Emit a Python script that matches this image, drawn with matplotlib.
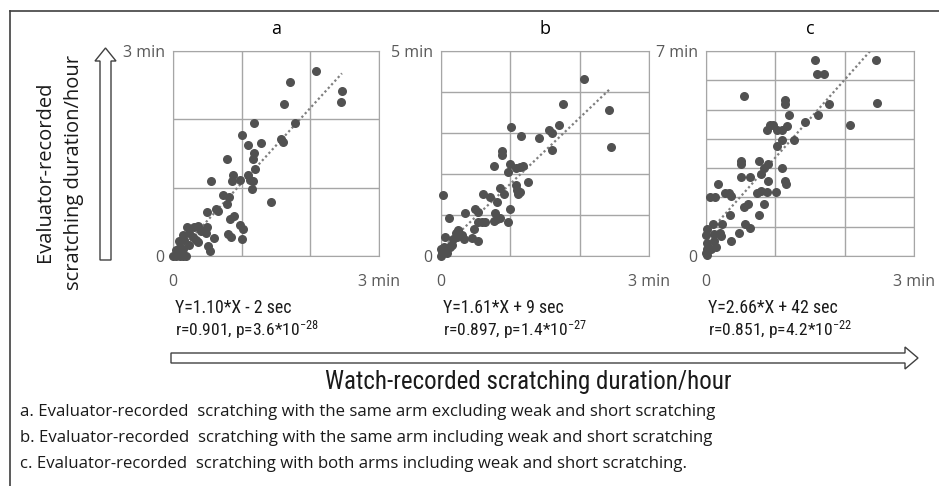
import matplotlib.pyplot as plt
import numpy as np
from matplotlib.patches import Polygon
from matplotlib.lines import Line2D

# Watch-recorded (x) vs evaluator-recorded (y) scratching, minutes per hour
xa = [2.08, 1.71, 2.46, 2.45, 1.61, 1.18, 1.77, 1.01, 1.09, 1.28, 1.58, 1.60, 1.18, 1.17,
      0.78, 1.19, 0.56, 0.88, 0.86, 0.97, 1.09, 1.12, 1.16, 1.15, 0.73, 0.82, 0.78, 1.42,
      0.63, 0.65, 0.49, 0.89, 0.83, 0.97, 1.02, 1.00, 0.80, 0.85, 0.59, 0.50, 0.48, 0.51,
      0.54, 0.36, 0.31, 0.21, 0.15, 0.23, 0.34, 0.36, 0.24, 0.16, 0.09, 0.10, 0.05, 0.14,
      0.00, 0.05, 0.10, 0.15, 0.19, 0.29, 0.41]
ya = [2.71, 2.54, 2.41, 2.25, 2.23, 1.95, 1.95, 1.77, 1.63, 1.65, 1.71, 1.67, 1.51, 1.42,
      1.42, 1.27, 1.10, 1.18, 1.10, 1.11, 1.19, 1.11, 1.10, 0.98, 0.90, 0.87, 0.76, 0.79,
      0.69, 0.66, 0.64, 0.59, 0.54, 0.45, 0.39, 0.25, 0.32, 0.28, 0.27, 0.43, 0.34, 0.14,
      0.08, 0.44, 0.43, 0.43, 0.31, 0.33, 0.24, 0.20, 0.16, 0.23, 0.22, 0.13, 0.09, 0.10,
      0.00, 0.00, 0.00, 0.00, 0.00, 0.28, 0.37]

xb = [2.06, 1.76, 2.43, 2.45, 1.01, 1.16, 1.41, 1.56, 1.60, 1.70, 1.60, 0.88, 0.88, 0.76,
      0.99, 0.97, 1.08, 1.14, 1.18, 1.26, 1.08, 1.09, 1.14, 1.11, 0.85, 0.91, 0.61, 0.71,
      0.81, 0.03, 0.99, 0.34, 0.49, 0.53, 0.78, 0.81, 0.85, 0.77, 0.96, 0.54, 0.59, 0.64,
      0.47, 0.12, 0.24, 0.21, 0.30, 0.33, 0.18, 0.45, 0.53, 0.06, 0.16, 0.11, 0.04, 0.00,
      0.01, 0.00, 0.09, 0.13, 0.23]
yb = [4.32, 3.70, 3.57, 2.66, 3.14, 2.93, 2.89, 3.08, 3.00, 3.19, 2.58, 2.55, 2.47, 2.19,
      2.25, 2.04, 2.15, 2.17, 2.20, 1.80, 1.72, 1.62, 1.56, 1.50, 1.65, 1.50, 1.52, 1.43,
      1.31, 1.49, 1.15, 1.04, 1.15, 1.07, 1.04, 0.91, 0.93, 0.85, 0.83, 0.83, 0.83, 0.83,
      0.67, 0.93, 0.63, 0.57, 0.51, 0.41, 0.41, 0.45, 0.37, 0.46, 0.28, 0.23, 0.23, 0.16,
      0.08, 0.00, 0.08, 0.23, 0.47]

xc = [1.57, 1.60, 1.70, 2.45, 2.46, 0.55, 1.14, 1.14, 1.78, 1.20, 1.61, 1.43, 2.07, 0.92,
      0.97, 0.88, 1.02, 1.09, 1.17, 1.10, 1.27, 1.02, 0.50, 0.50, 0.77, 0.89, 0.84, 0.80,
      1.10, 0.51, 0.63, 0.89, 1.14, 1.16, 0.18, 0.06, 0.13, 0.27, 0.33, 0.36, 0.73, 0.79,
      0.88, 1.01, 0.60, 0.55, 0.84, 0.34, 0.77, 0.56, 0.64, 0.23, 0.10, 0.48, 0.36, 0.20,
      0.22, 0.12, 0.01, 0.00, 0.12, 0.15, 0.01, 0.02, 0.07, 0.00, 0.01]
yc = [6.70, 6.22, 6.22, 6.70, 5.22, 5.48, 5.31, 5.20, 5.20, 4.82, 4.82, 4.57, 4.46, 4.46,
      4.46, 4.29, 4.31, 4.29, 4.44, 3.97, 3.97, 3.76, 3.23, 3.13, 3.25, 3.13, 2.99, 2.79,
      2.99, 2.70, 2.70, 2.57, 2.57, 2.45, 2.45, 2.02, 2.02, 2.16, 2.16, 2.04, 2.16, 2.21,
      2.19, 2.19, 1.79, 1.66, 1.77, 1.40, 1.40, 1.08, 0.94, 1.08, 1.08, 0.77, 0.51, 0.77,
      0.68, 0.75, 0.91, 0.72, 0.52, 0.32, 0.45, 0.25, 0.25, 0.11, 0.02]

panel_names = ['a', 'b', 'c']
y_max = [3, 5, 7]
slopes = [1.10, 1.61, 2.66]
intercepts_sec = [-2, 9, 42]
eq_lines = ['Y=1.10*X - 2 sec', 'Y=1.61*X + 9 sec', 'Y=2.66*X + 42 sec']
stat_lines = [r'r=0.901, p=3.6*10$\mathregular{^{-28}}$',
              r'r=0.897, p=1.4*10$\mathregular{^{-27}}$',
              r'r=0.851, p=4.2*10$\mathregular{^{-22}}$']
footnotes = [
    'a. Evaluator-recorded  scratching with the same arm excluding weak and short scratching',
    'b. Evaluator-recorded  scratching with the same arm including weak and short scratching',
    'c. Evaluator-recorded  scratching with both arms including weak and short scratching.',
]

W, H = 939, 486
fig = plt.figure(figsize=(W / 100, H / 100), dpi=100)
fig.patch.set_facecolor('white')

# overlay in pixel coordinates for arrows, frame and free text
ov = fig.add_axes([0, 0, 1, 1])
ov.set_xlim(0, W)
ov.set_ylim(H, 0)
ov.axis('off')

tick_font = ['Open Sans', 'DejaVu Sans']
narrow_font = ['DejaVu Sans Condensed', 'Roboto Condensed', 'Lato', 'DejaVu Sans']
dot_color = '#515151'
grid_color = '#a6a6a6'

lefts = [173, 441, 706]
widths = [206, 208, 208]
top_px, bottom_px = 51, 256

data = [(xa, ya), (xb, yb), (xc, yc)]
for i, (xs, ys) in enumerate(data):
    ax = fig.add_axes([lefts[i] / W, 1 - bottom_px / H, widths[i] / W, (bottom_px - top_px) / H])
    ax.set_xlim(0, 3)
    ax.set_ylim(0, y_max[i])
    ax.set_xticks(np.arange(0, 4))
    ax.set_yticks(np.arange(0, y_max[i] + 1))
    ax.grid(True, color=grid_color, lw=1)
    ax.tick_params(length=0, labelsize=11.5, labelcolor='#595959')
    ax.set_xticklabels(['0', '', '', '3 min'], family=tick_font)
    ylabels = [''] * (y_max[i] + 1)
    ylabels[0] = '0'
    ylabels[-1] = f'{y_max[i]} min'
    ax.set_yticklabels(ylabels, family=tick_font)
    ax.tick_params(axis='x', pad=13)
    ax.tick_params(axis='y', pad=6)
    for s in ax.spines.values():
        s.set_color(grid_color)
    ax.set_axisbelow(True)

    ax.scatter(xs, ys, s=30, color=dot_color, zorder=3, clip_on=False)
    xl = np.array([0, max(xs)])
    yl = slopes[i] * xl + intercepts_sec[i] / 60
    ax.plot(xl, yl, ls=(0, (1, 1.2)), color='#7f7f7f', lw=1.6, zorder=2)

    ax.set_title(panel_names[i], fontsize=13, family=tick_font, pad=12)

    ov.text(lefts[i] + 2, 308, eq_lines[i], fontsize=12.8, family=narrow_font, va='center', color='#1a1a1a')
    ov.text(lefts[i] + 2, 330, stat_lines[i], fontsize=12.6, family=narrow_font, va='center', color='#1a1a1a')

# frame lines
ov.add_line(Line2D([10, W], [11, 11], color='#404040', lw=1.2))
ov.add_line(Line2D([10, 10], [11, H], color='#404040', lw=1.2))

# hollow arrows
harrow = [(171, 353), (905, 353), (905, 347), (918, 358), (905, 369), (905, 363), (171, 363)]
ov.add_patch(Polygon(harrow, closed=True, facecolor='white', edgecolor='#404040', lw=1))
varrow = [(100, 260), (100, 61), (95, 61), (105.5, 48), (116, 61), (111, 61), (111, 260)]
ov.add_patch(Polygon(varrow, closed=True, facecolor='white', edgecolor='#404040', lw=1))

ov.text(60, 172, 'Evaluator-recorded\nscratching duration/hour', rotation=90, fontsize=14.5,
        family=tick_font, ha='center', va='center', color='#1a1a1a', linespacing=1.6)
ov.text(528, 382, 'Watch-recorded scratching duration/hour', fontsize=18, family=narrow_font,
        ha='center', va='center', color='#1a1a1a')
for k, line in enumerate(footnotes):
    ov.text(20, 412 + 26 * k, line, fontsize=12.1, family=tick_font, va='center', color='#1a1a1a')

plt.savefig('out.png', dpi=100)
